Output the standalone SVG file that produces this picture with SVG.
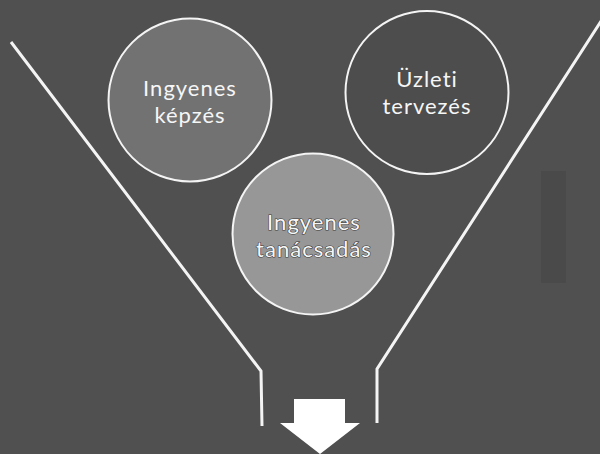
<svg xmlns="http://www.w3.org/2000/svg" width="600" height="454" viewBox="0 0 600 454">
  <defs>
    <style>
      .bg { fill: #505050; }
      .node circle { stroke: #f4f4f4; stroke-width: 2; }
      .lbl { font-family: Lato, "Open Sans", sans-serif; font-size: 22px; letter-spacing: 1px; fill: #f6f6f6; text-anchor: middle; }
      .emb { stroke: #3a3a3a; stroke-width: 1.2; paint-order: stroke; }
      .funnel { fill: none; stroke: #f4f4f4; stroke-width: 3; stroke-linejoin: miter; }
    </style>
  </defs>
  <rect class="bg" x="0" y="0" width="600" height="454"/>
  <rect x="541" y="171" width="25" height="112" fill="#3e3e3e" opacity="0.3"/>

  <g id="connectors">
    <polyline class="funnel" points="11,42 261,371 262,426"/>
    <polyline class="funnel" points="603,18 377,369 377,423"/>
    <polygon id="arrow" points="294,399 345,399 345,423 360,423 320,454 280,423 294,423" fill="#ffffff"/>
  </g>

  <g id="node-kepzes" class="node">
    <circle cx="190" cy="100" r="81.5" fill="#727272"/>
    <text class="lbl" x="190" y="96">Ingyenes</text>
    <text class="lbl" x="190" y="123">képzés</text>
  </g>

  <g id="node-uzleti" class="node">
    <circle cx="427" cy="92.5" r="81.5" fill="#4d4d4d"/>
    <text class="lbl" x="427" y="87">Üzleti</text>
    <text class="lbl" x="427" y="114">tervezés</text>
  </g>

  <g id="node-tanacsadas" class="node">
    <circle cx="313" cy="234" r="80.5" fill="#979797"/>
    <text class="lbl emb" x="314" y="229.5">Ingyenes</text>
    <text class="lbl emb" x="314" y="256.5">tanácsadás</text>
  </g>
</svg>
